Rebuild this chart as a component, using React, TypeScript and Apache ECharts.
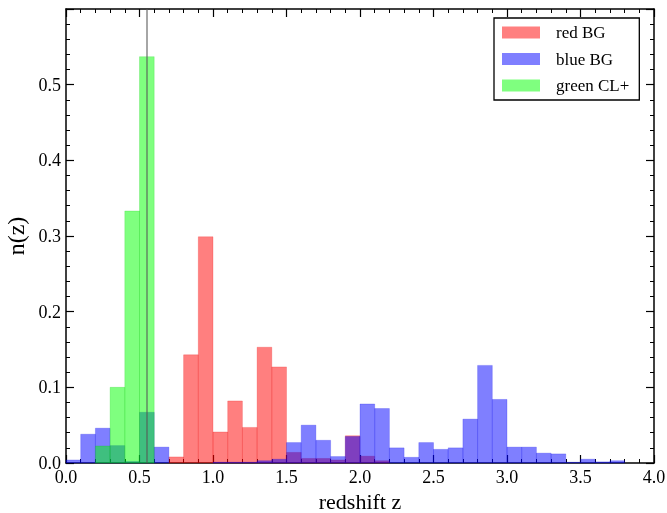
import { useEffect, useRef } from 'react';
import * as echarts from 'echarts';

// histogram bins: 0.0 - 4.0 in steps of 0.1
const BIN = 0.1;

const redBG = [
  0, 0, 0, 0, 0, 0, 0, 0.008, 0.143, 0.299,
  0.041, 0.082, 0.047, 0.153, 0.127, 0.014, 0.006, 0.006, 0.004, 0.036,
  0.009, 0.003, 0, 0, 0, 0, 0, 0, 0, 0,
  0, 0, 0, 0, 0, 0, 0, 0, 0, 0,
];

const blueBG = [
  0.004, 0.038, 0.046, 0.023, 0.002, 0.067, 0.021, 0, 0, 0,
  0.001, 0.001, 0.001, 0.003, 0.005, 0.027, 0.050, 0.030, 0.0085, 0.035,
  0.078, 0.072, 0.020, 0.0075, 0.027, 0.018, 0.020, 0.058, 0.129, 0.084,
  0.021, 0.021, 0.013, 0.012, 0.001, 0.005, 0.0015, 0.003, 0, 0,
];

const greenCL = [
  0, 0, 0.0225, 0.100, 0.333, 0.537, 0, 0, 0, 0,
  0, 0, 0, 0, 0, 0, 0, 0, 0, 0,
  0, 0, 0, 0, 0, 0, 0, 0, 0, 0,
  0, 0, 0, 0, 0, 0, 0, 0, 0, 0,
];

const clusterZ = 0.548;

const FONT = '"Liberation Serif", "Times New Roman", serif';

function histSeries(name: string, values: number[], color: string, edge: string) {
  return {
    name,
    type: 'custom',
    itemStyle: { color },
    encode: { x: [0, 1], y: 2 },
    data: values.map((v, i) => [i * BIN, (i + 1) * BIN, v]),
    renderItem: (_params: any, api: any) => {
      const v = api.value(2);
      if (!v) return null;
      const p0 = api.coord([api.value(0), v]);
      const p1 = api.coord([api.value(1), 0]);
      return {
        type: 'rect',
        shape: { x: p0[0], y: p0[1], width: p1[0] - p0[0], height: p1[1] - p0[1] },
        style: { fill: color, stroke: edge, lineWidth: 0.6 },
      };
    },
  };
}

export default function App() {
  const chartRef = useRef<HTMLDivElement>(null);

  useEffect(() => {
    if (!chartRef.current) return;
    const chart = echarts.init(chartRef.current, undefined, { renderer: 'svg' });

    const tickCommon = {
      axisLine: { show: true, onZero: false, lineStyle: { color: '#000', width: 1.5 } },
      axisTick: { show: true, inside: true, length: 8, lineStyle: { color: '#000', width: 1.2 } },
      minorTick: { show: true, splitNumber: 5, length: 4, lineStyle: { color: '#000', width: 1 } },
      splitLine: { show: false },
    };

    chart.setOption({
      animation: false,
      textStyle: { fontFamily: FONT },
      grid: { left: 66, right: 13, top: 9, bottom: 50, containLabel: false, outerBoundsMode: 'none' },
      legend: {
        left: 494,
        top: 18,
        orient: 'vertical',
        data: ['red BG', 'blue BG', 'green CL+'],
        icon: 'rect',
        itemWidth: 38,
        itemHeight: 12,
        itemGap: 9.5,
        padding: [6, 10, 6, 8],
        borderColor: '#000',
        borderWidth: 1.3,
        borderRadius: 0,
        backgroundColor: '#fff',
        textStyle: { fontFamily: FONT, fontSize: 17, color: '#000', lineHeight: 17, padding: [0, 0, 0, 11] },
      },
      xAxis: [
        {
          type: 'value',
          min: 0,
          max: 4,
          interval: 0.5,
          position: 'bottom',
          ...tickCommon,
          axisLabel: { color: '#000', fontSize: 18, fontFamily: FONT, margin: 5, formatter: (v: number) => v.toFixed(1) },
          name: 'redshift z',
          nameLocation: 'middle',
          nameGap: 22,
          nameTextStyle: { color: '#000', fontSize: 22, fontFamily: FONT, lineHeight: 22 },
        },
        {
          type: 'value',
          min: 0,
          max: 4,
          interval: 0.5,
          position: 'top',
          ...tickCommon,
          axisLabel: { show: false },
        },
      ],
      yAxis: [
        {
          type: 'value',
          min: 0,
          max: 0.6,
          interval: 0.1,
          position: 'left',
          ...tickCommon,
          axisLabel: {
            color: '#000',
            fontSize: 18,
            fontFamily: FONT,
            margin: 5,
            showMaxLabel: false,
            formatter: (v: number) => v.toFixed(1),
          },
          name: 'n(z)',
          nameLocation: 'middle',
          nameGap: 34,
          nameTextStyle: { color: '#000', fontSize: 24, fontFamily: FONT },
        },
        {
          type: 'value',
          min: 0,
          max: 0.6,
          interval: 0.1,
          position: 'right',
          ...tickCommon,
          axisLabel: { show: false },
        },
      ],
      series: [
        histSeries('red BG', redBG, 'rgba(255,0,0,0.5)', 'rgba(230,0,0,0.35)'),
        histSeries('blue BG', blueBG, 'rgba(0,0,255,0.5)', 'rgba(0,0,230,0.35)'),
        {
          ...histSeries('green CL+', greenCL, 'rgba(0,255,0,0.5)', 'rgba(0,200,0,0.35)'),
          markLine: {
            silent: true,
            symbol: 'none',
            label: { show: false },
            lineStyle: { color: '#555', width: 1.5, type: 'solid', opacity: 0.7 },
            data: [{ xAxis: clusterZ }],
          },
        },
      ],
    });

    return () => chart.dispose();
  }, []);

  return <div ref={chartRef} style={{ position: 'fixed', left: 0, top: 0, width: 667, height: 513 }} />;
}
